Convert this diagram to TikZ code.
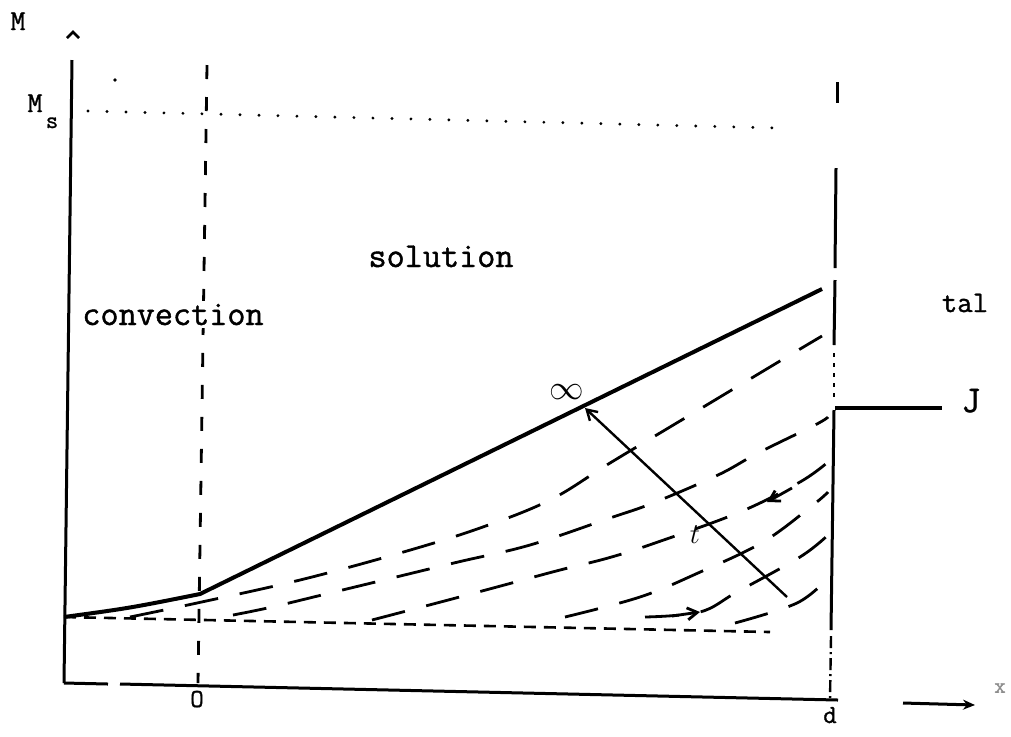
\documentclass[tikz,border=0pt]{standalone}
\usepackage{fontspec}
\newfontfamily\typew{Latin Modern Mono}[FakeBold=1.2]
\usetikzlibrary{arrows.meta}
\begin{document}
\begin{tikzpicture}[x=0.5pt,y=-0.5pt,
  axis/.style={line width=1.5pt},
  mainline/.style={line width=2pt, line join=round},
  family/.style={line width=1.4pt, dash pattern=on 17pt off 11pt},
  guide/.style={line width=1.4pt, dash pattern=on 7pt off 9pt},
  baseln/.style={line width=1.3pt, dash pattern=on 6pt off 4pt},
  lbl/.style={font=\typew\fontsize{17.6}{20}\selectfont, inner sep=0pt, anchor=base},
  small/.style={font=\typew\fontsize{13}{15}\selectfont, inner sep=0pt, anchor=base},
  tip/.style={-{Straight Barb[length=5pt,width=6pt]}}
]
\useasboundingbox (0,0) rectangle (1011,736);

% coordinates
\coordinate (origin) at (64,683);
\coordinate (ytop) at (72,60);
\coordinate (xend) at (838,700);
\coordinate (xarrS) at (903,703);
\coordinate (xarrE) at (975,705);
\coordinate (m0) at (64,617);
\coordinate (m1) at (200,594);
\coordinate (m2) at (822,289);
\coordinate (inf) at (585,408);
\coordinate (tail) at (787,597);
\coordinate (jL) at (835,408);
\coordinate (jR) at (942,408);

% axes
\draw[axis] (origin) -- (ytop);
\draw[line width=1.3pt, line join=miter] (67,38) -- (73,32) -- (79,38);
\draw[axis] (origin) -- (108,684);
\draw[axis] (120,684) -- (xend);
\draw[axis, -{Stealth[length=6pt,width=5pt]}] (xarrS) -- (xarrE);

% Ms dotted level
\draw[line width=1.6pt, line cap=round, dash pattern=on 0pt off 9.5pt] (88,111) -- (778,128);
\fill (115,80) circle (0.9pt);

% vertical dashed at 0
\draw[guide] (207,65) -- (198,683);

% right boundary at d
\draw[line width=1.5pt] (837,82) -- (837,103);
\draw[line width=1.5pt] (836,168) -- (835,268);
\draw[line width=1.5pt] (835,280) -- (834,345);
\draw[line width=1.2pt, dash pattern=on 2pt off 3pt] (834,353) -- (834,400);
\draw[line width=1.5pt] (834,410) -- (831,630);
\draw[line width=1.2pt, dash pattern=on 6pt off 2pt on 1pt off 2pt] (831,636) -- (830,700);

% J line
\draw[line width=1.8pt] (jL) -- (jR);

% baseline
\draw[baseln] (m0) -- (770,632);

% main solid line
\draw[mainline] (m0) .. controls (130,608) .. (m1) -- (m2);

% family of dashed curves
\draw[family] plot[smooth, tension=0.6] coordinates {(130,617) (197,603) (300,580) (400,553) (480,528) (550,500) (610,463) (690,415) (785,358) (822,336)};
\draw[family] plot[smooth, tension=0.6] coordinates {(233,615) (272,607) (330,593) (392,578) (458,562) (530,545) (610,518) (653,503) (718,475) (758,453) (815,425) (828,417)};
\draw[family] plot[smooth, tension=0.6] coordinates {(372,620) (452,599) (508,584) (560,570) (608,558) (655,543) (740,512) (800,482) (828,462)};
\draw[family] plot[smooth, tension=0.6] coordinates {(565,617) (640,597) (698,573) (763,542) (813,505) (828,492)};
\draw[family] plot[smooth, tension=0.6] coordinates {(645,617) (700,612) (737,592) (800,557) (828,535)};
\draw[family] plot[smooth, tension=0.6] coordinates {(735,623) (797,603) (828,578)};
\draw[line width=1.4pt, tip] (792,488) -- (767,502);
\draw[line width=1.4pt, tip] (672,616) -- (700,612);

% arrow towards infinity
\draw[line width=1.2pt, tip] (tail) -- (inf);

% labels
\node[font=\typew\fontsize{14.5}{16}\selectfont, inner sep=0pt, anchor=base] (lM) at (18,30) {M};
\node[font=\typew\fontsize{14.5}{16}\selectfont, inner sep=0pt, anchor=base] (lMs) at (35,112) {M};
\node[font=\typew\fontsize{12}{14}\selectfont, inner sep=0pt, anchor=base] (lMss) at (52,128) {s};
\node[lbl] (sol) at (441,267) {solution};
\node[lbl, fill=white, inner sep=1.5pt] (conv) at (173,325) {convection};
\node[font=\typew\fontsize{15}{17}\selectfont, inner sep=0pt, anchor=base] (tal) at (965,312) {tal};
\node[font=\typew\fontsize{19}{21}\selectfont, inner sep=0pt, anchor=base] (lJ) at (971,412) {J};
\node[font=\fontsize{17}{20}\selectfont, inner sep=0pt] (linf) at (567,392) {$\infty$};
\node[font=\fontsize{15}{18}\selectfont, inner sep=0pt] (lt) at (695,535) {$t$};
\node[small] (lO) at (197,707) {O};
\node[small] (ld) at (830,723) {d};
\node[font=\typew\fontsize{11}{13}\selectfont, inner sep=0pt, text=black!45] (lx) at (1000,688) {x};
\end{tikzpicture}
\end{document}
